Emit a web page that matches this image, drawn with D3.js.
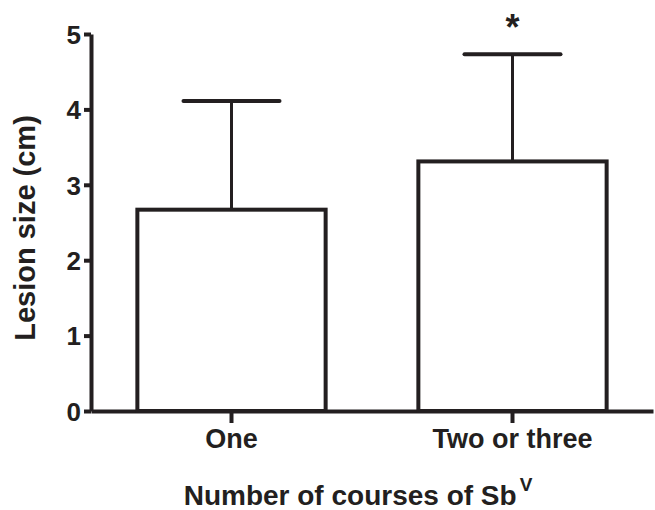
<!DOCTYPE html>
<html>
<head>
<meta charset="utf-8">
<script src="https://cdn.jsdelivr.net/npm/d3@7"></script>
<style>
  body { margin: 0; background: #fff; }
  svg { font-family: "Liberation Sans", Arial, sans-serif; font-weight: bold; }
</style>
</head>
<body>
<svg id="chart" width="655" height="510"></svg>
<script>
// values
var categories = ["One", "Two or three"];
var means = [2.67, 3.31];
var errors = [1.44, 1.42];
var marks = ["", "*"];
var yTicks = [0, 1, 2, 3, 4, 5];

var ink = "#231f20";
var svg = d3.select("#chart");

var x = d3.scaleBand()
          .domain(categories)
          .range([91, 653])
          .paddingInner(0.33)
          .paddingOuter(0.165);

var y = d3.scaleLinear()
          .domain([0, 5])
          .range([411, 34]);

// y axis
var yAxis = svg.append("g")
   .attr("transform", "translate(91,0)")
   .call(d3.axisLeft(y).tickValues(yTicks).tickFormat(d3.format("d"))
           .tickSize(7).tickSizeOuter(0).tickPadding(3));

// x axis
var xAxis = svg.append("g")
   .attr("transform", "translate(0,411)")
   .call(d3.axisBottom(x).tickSize(12).tickSizeOuter(0).tickPadding(6));

[yAxis, xAxis].forEach(function(ax) {
  ax.select(".domain").attr("stroke", ink).attr("stroke-width", 4);
  ax.selectAll(".tick line").attr("stroke", ink).attr("stroke-width", 4);
  ax.selectAll(".tick text")
    .attr("fill", ink)
    .attr("font-family", "Liberation Sans, Arial, sans-serif")
    .attr("font-weight", "bold");
});
yAxis.selectAll(".tick text").attr("font-size", "26px").attr("dy", "0.36em");
xAxis.selectAll(".tick text").attr("font-size", "27px");

var data = categories.map(function(c, i) {
  return { cat: c, mean: means[i], err: errors[i], mark: marks[i] };
});

// error bars
var eb = svg.append("g").selectAll(".err")
   .data(data)
   .enter().append("g")
   .classed("err", true);

eb.append("line")
  .attr("x1", d => x(d.cat) + x.bandwidth() / 2)
  .attr("x2", d => x(d.cat) + x.bandwidth() / 2)
  .attr("y1", d => y(d.mean))
  .attr("y2", d => y(d.mean + d.err))
  .attr("stroke", ink)
  .attr("stroke-width", 3);

eb.append("line")
  .attr("x1", d => x(d.cat) + x.bandwidth() / 2 - 48)
  .attr("x2", d => x(d.cat) + x.bandwidth() / 2 + 48)
  .attr("y1", d => y(d.mean + d.err))
  .attr("y2", d => y(d.mean + d.err))
  .attr("stroke", ink)
  .attr("stroke-width", 4)
  .attr("stroke-linecap", "round");

// bars
svg.append("g").selectAll(".bar")
   .data(data)
   .enter().append("rect")
   .classed("bar", true)
   .attr("x", d => x(d.cat))
   .attr("width", x.bandwidth())
   .attr("y", d => y(d.mean))
   .attr("height", d => y(0) - y(d.mean))
   .attr("fill", "#fff")
   .attr("stroke", ink)
   .attr("stroke-width", 4);

// significance mark
svg.append("g").selectAll(".mark")
   .data(data)
   .enter().append("text")
   .classed("mark", true)
   .attr("x", d => x(d.cat) + x.bandwidth() / 2)
   .attr("y", d => y(d.mean + d.err) - 14)
   .attr("text-anchor", "middle")
   .attr("font-size", "36px")
   .attr("fill", ink)
   .text(d => d.mark);

// axis titles
svg.append("text")
   .attr("transform", "translate(35,228) rotate(-90)")
   .attr("text-anchor", "middle")
   .attr("font-size", "29px")
   .attr("fill", ink)
   .text("Lesion size (cm)");

var xt = svg.append("text")
   .attr("x", 358)
   .attr("y", 505)
   .attr("text-anchor", "middle")
   .attr("font-size", "28px")
   .attr("fill", ink);
xt.append("tspan").text("Number of courses of Sb");
xt.append("tspan").attr("font-size", "19px").attr("dx", "3").attr("dy", "-14").text("V");
</script>
</body>
</html>
